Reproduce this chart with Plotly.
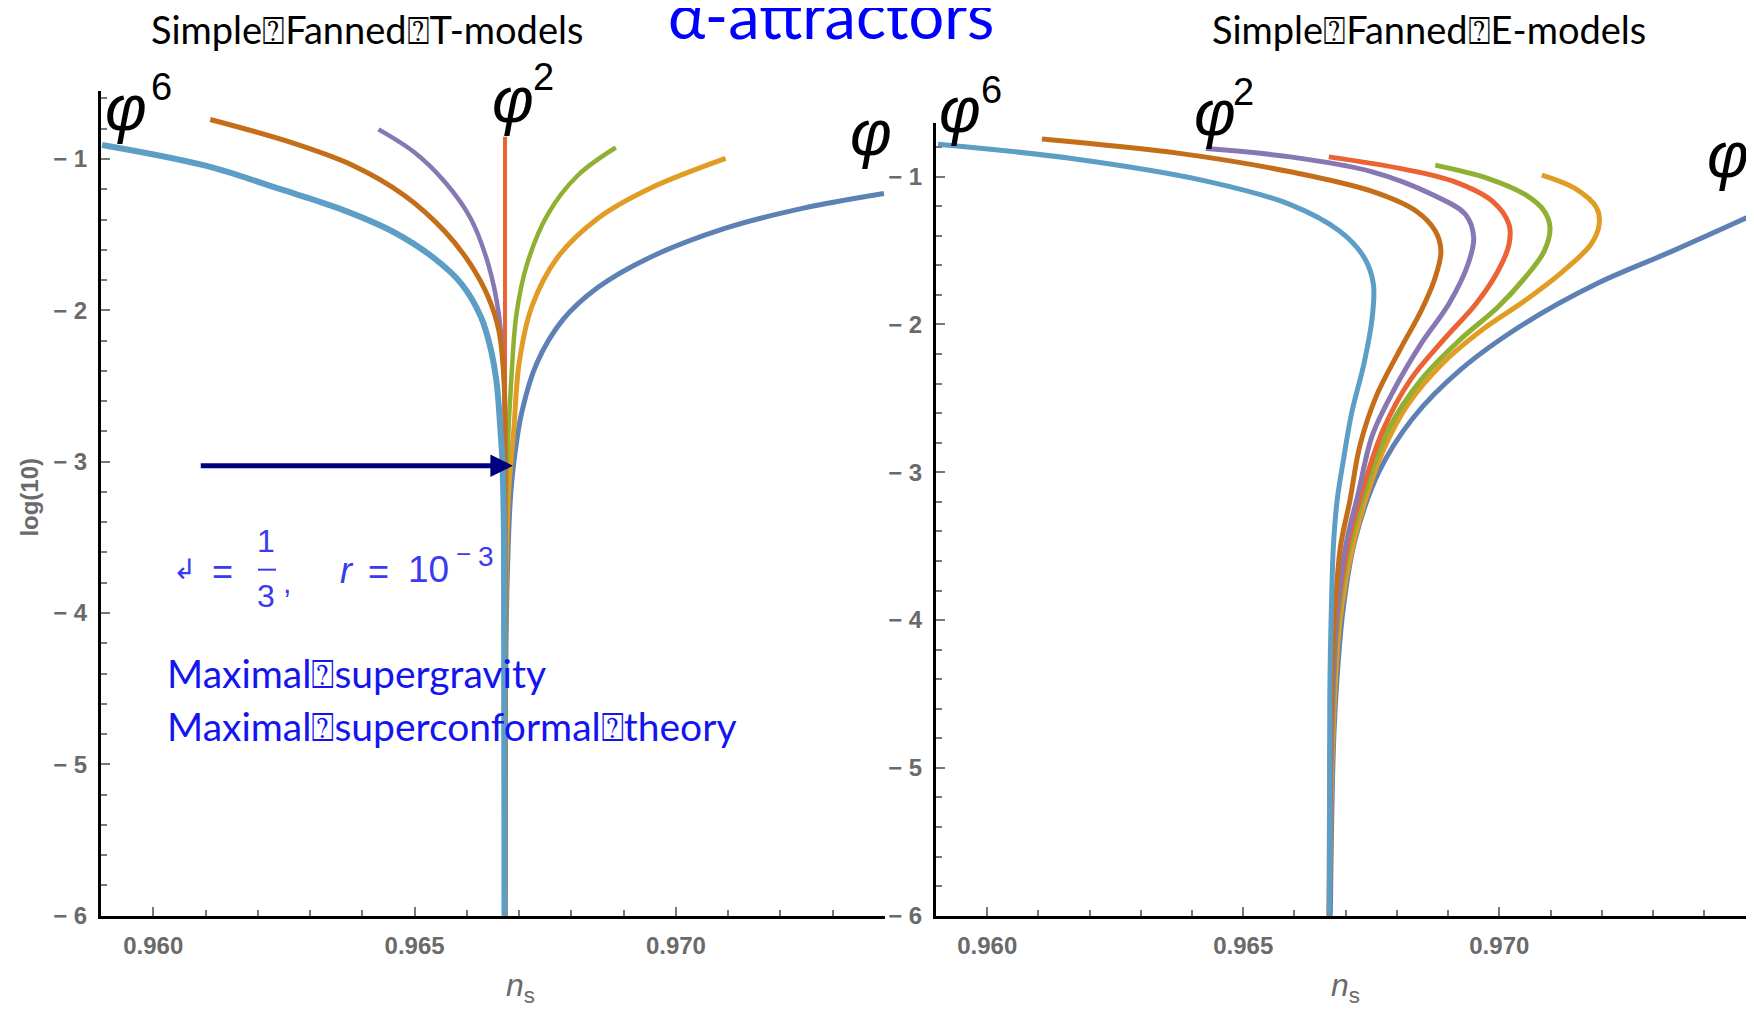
import plotly.graph_objects as go

W, H = 1754, 1010

# ---------------- data: T-models (left panel) ----------------
T_DBLUE_NS = [0.97398, 0.97242, 0.97095, 0.96949, 0.96851, 0.96783, 0.96734, 0.96705, 0.96690, 0.96683, 0.96677, 0.96674, 0.96673]
T_DBLUE_LR = [-1.228, -1.326, -1.457, -1.652, -1.848, -2.065, -2.348, -2.674, -3.0, -3.26, -3.8, -4.5, -6.0]
T_YELLOW_NS = [0.97095, 0.96949, 0.96851, 0.96773, 0.96724, 0.96700, 0.96690, 0.96680, 0.96675, 0.96673]
T_YELLOW_LR = [-0.996, -1.196, -1.391, -1.652, -1.978, -2.348, -2.78, -3.2, -3.8, -6.0]
T_GREEN_NS = [0.96885, 0.96812, 0.96754, 0.96715, 0.96695, 0.96685, 0.96677, 0.96674, 0.96673]
T_GREEN_LR = [-0.924, -1.109, -1.370, -1.696, -2.022, -2.457, -3.0, -3.5, -6.0]
T_RED_NS = [0.96673, 0.96673]
T_RED_LR = [-0.853, -6.0]
T_PURPLE_NS = [0.96431, 0.96500, 0.96558, 0.96607, 0.96641, 0.96661, 0.96671, 0.96673, 0.96673]
T_PURPLE_LR = [-0.804, -0.957, -1.152, -1.391, -1.696, -2.022, -2.457, -3.0, -6.0]
T_BROWN_NS = [0.96109, 0.96265, 0.96383, 0.96480, 0.96558, 0.96607, 0.96641, 0.96661, 0.96671, 0.96673, 0.96673]
T_BROWN_LR = [-0.739, -0.892, -1.044, -1.239, -1.479, -1.696, -1.913, -2.13, -2.457, -3.0, -6.0]
T_LBLUE_NS = [0.95902, 0.96100, 0.96240, 0.96355, 0.96458, 0.96536, 0.96590, 0.96627, 0.96646, 0.96657, 0.96664, 0.96668, 0.96671, 0.96672]
T_LBLUE_LR = [-0.907, -1.044, -1.196, -1.326, -1.479, -1.652, -1.826, -2.044, -2.26, -2.48, -2.78, -3.0, -3.5, -6.0]

# ---------------- data: E-models (right panel) ----------------
E_DBLUE_NS = [0.97520, 0.97339, 0.97190, 0.97050, 0.96925, 0.96830, 0.96765, 0.96718, 0.96695, 0.96683, 0.96676, 0.96670]
E_DBLUE_LR = [-1.22, -1.502, -1.724, -1.992, -2.304, -2.639, -2.996, -3.46, -3.93, -4.40, -4.87, -6.0]
E_YELLOW_NS = [0.97083, 0.97147, 0.97190, 0.97195, 0.97179, 0.97126, 0.97051, 0.96966, 0.96890, 0.96820, 0.96772, 0.96742, 0.96714, 0.96689, 0.96675, 0.96668]
E_YELLOW_LR = [-0.989, -1.078, -1.211, -1.323, -1.457, -1.635, -1.836, -2.037, -2.260, -2.549, -2.862, -3.151, -3.5, -4.0, -4.8, -6.0]
E_GREEN_NS = [0.96875, 0.96977, 0.97051, 0.97088, 0.97099, 0.97088, 0.97051, 0.96998, 0.96923, 0.96848, 0.96784, 0.96740, 0.96708, 0.96685, 0.96673, 0.96668]
E_GREEN_LR = [-0.922, -1.011, -1.122, -1.234, -1.345, -1.502, -1.680, -1.880, -2.104, -2.371, -2.706, -3.107, -3.5, -4.0, -4.8, -6.0]
E_RED_NS = [0.96667, 0.96806, 0.96912, 0.96987, 0.97019, 0.97019, 0.96998, 0.96955, 0.96891, 0.96827, 0.96774, 0.96734, 0.96704, 0.96683, 0.96672, 0.96668]
E_RED_LR = [-0.866, -0.944, -1.033, -1.167, -1.323, -1.457, -1.635, -1.858, -2.104, -2.371, -2.706, -3.107, -3.5, -4.0, -4.8, -6.0]
E_PURPLE_NS = [0.96427, 0.96592, 0.96752, 0.96870, 0.96934, 0.96950, 0.96939, 0.96902, 0.96848, 0.96795, 0.96752, 0.96724, 0.96700, 0.96682, 0.96672, 0.96668]
E_PURPLE_LR = [-0.810, -0.866, -0.967, -1.122, -1.256, -1.412, -1.591, -1.858, -2.126, -2.438, -2.750, -3.151, -3.5, -4.0, -4.8, -6.0]
E_BROWN_NS = [0.96107, 0.96379, 0.96592, 0.96752, 0.96838, 0.96875, 0.96886, 0.96875, 0.96848, 0.96806, 0.96760, 0.96728, 0.96708, 0.96690, 0.96678, 0.96670, 0.96668]
E_BROWN_LR = [-0.745, -0.844, -0.967, -1.100, -1.234, -1.368, -1.502, -1.680, -1.903, -2.171, -2.483, -2.817, -3.196, -3.5, -4.0, -4.8, -6.0]
E_LBLUE_NS = [0.95904, 0.96165, 0.96432, 0.96592, 0.96688, 0.96736, 0.96754, 0.96752, 0.96736, 0.96712, 0.96695, 0.96683, 0.96676, 0.96672, 0.96669, 0.96668]
E_LBLUE_LR = [-0.780, -0.877, -1.033, -1.189, -1.368, -1.546, -1.724, -1.947, -2.260, -2.594, -2.929, -3.2, -3.5, -3.93, -4.5, -6.0]

# ---------------- labels ----------------
X_TICKS = [0.960, 0.965, 0.970, 0.975]
X_TICK_TEXT = ["0.960", "0.965", "0.970", "0.975"]
Y_TICKS = [-6, -5, -4, -3, -2, -1]
Y_TICK_TEXT = ["\u2212 6", "\u2212 5", "\u2212 4", "\u2212 3", "\u2212 2", "\u2212 1"]
TITLE_LEFT = "Simple\u2370Fanned\u2370T-models"
TITLE_RIGHT = "Simple\u2370Fanned\u2370E-models"
MAIN_TITLE = "\u03b1-attractors"
TEXT_SUGRA = "Maximal\u2370supergravity"
TEXT_SCFT = "Maximal\u2370superconformal\u2370theory"

# arrow (data coords of left panel)
ARROW_FROM = (0.96088, -3.027)
ARROW_TO = (0.96688, -3.027)

C_DBLUE = "#5E81B5"
C_YELLOW = "#E19C24"
C_GREEN = "#8FB032"
C_RED = "#EB6235"
C_PURPLE = "#8778B3"
C_BROWN = "#C56E1A"
C_LBLUE = "#5D9EC7"

fig = go.Figure()


def add(ns, lr, color, width, xa, ya):
    fig.add_trace(go.Scatter(
        x=ns, y=lr, mode="lines",
        line=dict(color=color, width=width, shape="spline", smoothing=1.0),
        xaxis=xa, yaxis=ya, showlegend=False, hoverinfo="skip"))


left = [
    (T_DBLUE_NS, T_DBLUE_LR, C_DBLUE, 5),
    (T_YELLOW_NS, T_YELLOW_LR, C_YELLOW, 5),
    (T_GREEN_NS, T_GREEN_LR, C_GREEN, 4.5),
    (T_RED_NS, T_RED_LR, C_RED, 4),
    (T_PURPLE_NS, T_PURPLE_LR, C_PURPLE, 4.5),
    (T_BROWN_NS, T_BROWN_LR, C_BROWN, 5),
    (T_LBLUE_NS, T_LBLUE_LR, C_LBLUE, 6),
]
for ns, lr, c, w in left:
    add(ns, lr, c, w, "x", "y")

right = [
    (E_DBLUE_NS, E_DBLUE_LR, C_DBLUE, 5),
    (E_YELLOW_NS, E_YELLOW_LR, C_YELLOW, 5),
    (E_GREEN_NS, E_GREEN_LR, C_GREEN, 5),
    (E_RED_NS, E_RED_LR, C_RED, 5),
    (E_PURPLE_NS, E_PURPLE_LR, C_PURPLE, 5),
    (E_BROWN_NS, E_BROWN_LR, C_BROWN, 5),
    (E_LBLUE_NS, E_LBLUE_LR, C_LBLUE, 5),
]
for ns, lr, c, w in right:
    add(ns, lr, c, w, "x2", "y2")

TICKFONT = dict(family="Liberation Sans Narrow, Liberation Sans, Arial", size=24, color="#6a6a6a", weight="bold")


def xaxis(domain, rng, anchor):
    return dict(
        domain=domain, range=rng, anchor=anchor,
        showline=True, linecolor="black", linewidth=3,
        ticks="inside", ticklen=9, tickwidth=2, tickcolor="#777777",
        tickvals=X_TICKS, ticktext=X_TICK_TEXT, tickfont=TICKFONT,
        ticklabelstandoff=7,
        minor=dict(ticks="inside", dtick=0.001, tick0=0.959, ticklen=6, tickwidth=2, tickcolor="#777777"),
        showgrid=False, zeroline=False, fixedrange=True)


def yaxis(domain, rng, anchor):
    return dict(
        domain=domain, range=rng, anchor=anchor,
        showline=True, linecolor="black", linewidth=3,
        ticks="inside", ticklen=9, tickwidth=2, tickcolor="#777777",
        tickvals=Y_TICKS, ticktext=Y_TICK_TEXT, tickfont=TICKFONT,
        ticklabelstandoff=6,
        minor=dict(ticks="inside", dtick=0.2, tick0=-6, ticklen=6, tickwidth=2, tickcolor="#777777"),
        showgrid=False, zeroline=False, fixedrange=True)


def px(x):
    return x / W


def py(y):
    return 1 - y / H


ybot = py(919.5)
fig.update_layout(
    width=W, height=H,
    margin=dict(l=0, r=0, t=0, b=0),
    paper_bgcolor="white", plot_bgcolor="white",
    xaxis=xaxis([px(93), px(877)], [0.959, 0.974], "y"),
    yaxis=yaxis([ybot, py(84)], [-6, -0.55], "x"),
    xaxis2=xaxis([px(928), 1.0], [0.959, 0.97513], "y2"),
    yaxis2=yaxis([ybot, py(117)], [-6, -0.64], "x2"),
)

ann = []


def text(x, y, s, size, color="black", family="Lato, Open Sans, sans-serif", xanchor="center", yanchor="middle", **kw):
    ann.append(dict(x=px(x), y=py(y), xref="paper", yref="paper", text=s, showarrow=False,
                    xanchor=xanchor, yanchor=yanchor,
                    font=dict(family=family, size=size, color=color), **kw))


# titles
text(359, 21, TITLE_LEFT, 38)
text(1421, 21, TITLE_RIGHT, 38)
text(823, 7, MAIN_TITLE, 63, color="#0000FF")

# axis titles
AXF = "Liberation Sans, Arial"
text(22, 496, "<b>log(10)</b>", 24, color="#6a6a6a", family=AXF, textangle=-90)
text(512, 992, "<i>n</i><sub>s</sub>", 32, color="#6a6a6a", family=AXF)
text(1337, 992, "<i>n</i><sub>s</sub>", 32, color="#6a6a6a", family=AXF)

# phi labels
PF = "Liberation Sans, Arial"
for (xc, yc, xe, ye, e) in [(118, 101, 153, 80, "6"), (505, 93, 535, 70, "2"), (952, 103, 983, 83, "6"),
                             (1207, 106, 1235, 85, "2")]:
    text(xc, yc, "<i>\u03c6</i>", 64, family=PF)
    text(xe, ye, e, 38, family=PF)
text(863, 127, "<i>\u03c6</i>", 64, family=PF)
text(1720, 149, "<i>\u03c6</i>", 64, family=PF)

# formula
FB = "#3A3AF0"
text(176, 569, "\u21b2", 28, color=FB, family="DejaVu Sans")
text(214, 571, "=", 36, color=FB, family=AXF)
text(258, 540, "1", 32, color=FB, family=AXF)
text(258, 596, "3", 32, color=FB, family=AXF)
text(279, 582, ",", 30, color=FB, family=AXF)
text(339, 570, "<i>r</i>", 36, color=FB, family=AXF)
text(370, 571, "=", 36, color=FB, family=AXF)
text(420, 569, "10", 37, color=FB, family=AXF)
text(455, 553, "\u2212", 26, color=FB, family=AXF)
text(478, 556, "3", 28, color=FB, family=AXF)

# blue text
text(157, 674, TEXT_SUGRA, 39, color="#1414F0", xanchor="left")
text(157, 727, TEXT_SCFT, 39, color="#1414F0", xanchor="left")

# arrow
ann.append(dict(x=ARROW_TO[0], y=ARROW_TO[1], ax=ARROW_FROM[0], ay=ARROW_FROM[1],
                xref="x", yref="y", axref="x", ayref="y", showarrow=True,
                arrowhead=2, arrowsize=0.9, arrowwidth=5, arrowcolor="#00007F", text=""))

fig.update_layout(
    annotations=ann,
    shapes=[dict(type="line", xref="paper", yref="paper", x0=px(250), x1=px(268), y0=py(569), y1=py(569),
                 line=dict(color=FB, width=2))],
)
fig.write_html("out.html")
